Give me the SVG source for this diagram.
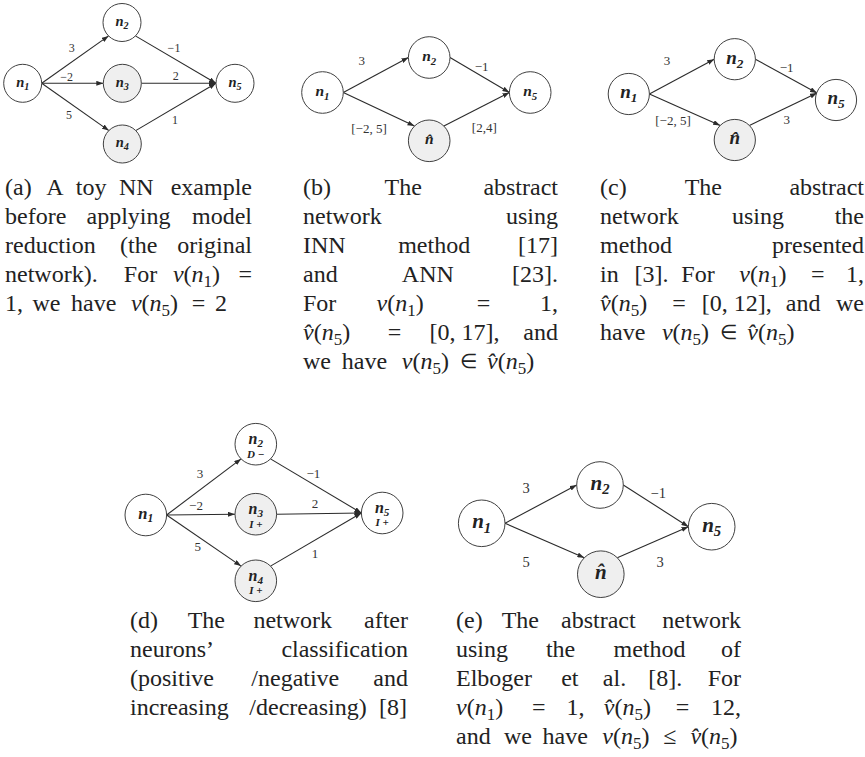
<svg xmlns="http://www.w3.org/2000/svg" width="865" height="757" viewBox="0 0 865 757">
<style>
.bg{fill:#fff}
.edge{stroke:#2b2b2b;stroke-width:1.1;fill:none;marker-end:url(#ah)}
.nd{stroke:#404040;stroke-width:1;fill:#fff}
.nd.g{fill:#efefef}
.nl{font-family:"Liberation Serif","Times New Roman",serif;font-weight:bold;font-style:italic;text-anchor:middle;fill:#222}
.ns{font-size:70%}
.tag{font-size:11px}
.el{font-family:"Liberation Serif","Times New Roman",serif;text-anchor:middle;fill:#333}
.c{font-family:"Liberation Serif","Times New Roman",serif;font-size:24px;fill:#222}
.m{text-anchor:middle}
.e{text-anchor:end}
.i{font-style:italic}
.s{font-size:17px}
.rel{font-size:20px}
</style>
<defs>
<marker id="ah" viewBox="0 0 7 5" refX="7" refY="2.5" markerWidth="7" markerHeight="5" markerUnits="userSpaceOnUse" orient="auto">
<path d="M0,0 L7,2.5 L0,5 Z" fill="#2b2b2b"/>
</marker>
</defs>
<rect class="bg" x="0" y="0" width="865" height="757"/>

<!-- (a) original network -->
<g id="a-edges">
<path class="edge" d="M41.7,83.3 L108.6,35.9"/>
<path class="edge" d="M41.7,83.3 L103.3,83.3"/>
<path class="edge" d="M41.7,83.3 L108.9,130.6"/>
<path class="edge" d="M135.4,35.9 L216,83.3"/>
<path class="edge" d="M141.3,83.3 L216,83.3"/>
<path class="edge" d="M135.7,130.6 L216,83.3"/>
<g font-size="12">
<text class="el" x="71.7" y="52">3</text>
<text class="el" x="66.7" y="81">−2</text>
<text class="el" x="69" y="119">5</text>
<text class="el" x="174" y="52">−1</text>
<text class="el" x="175.7" y="80">2</text>
<text class="el" x="175" y="124">1</text>
</g>
</g>
<g id="a-n1"><circle class="nd" cx="22.7" cy="83.3" r="19"/><text class="nl" x="22.7" y="86.7" font-size="14.5">n<tspan class="ns" dy="3">1</tspan></text></g>
<g id="a-n2"><circle class="nd" cx="122" cy="22.5" r="19"/><text class="nl" x="122" y="25.9" font-size="14.5">n<tspan class="ns" dy="3">2</tspan></text></g>
<g id="a-n3"><circle class="nd g" cx="122.3" cy="83.3" r="19"/><text class="nl" x="122.3" y="86.7" font-size="14.5">n<tspan class="ns" dy="3">3</tspan></text></g>
<g id="a-n4"><circle class="nd g" cx="122.3" cy="144" r="19"/><text class="nl" x="122.3" y="147.4" font-size="14.5">n<tspan class="ns" dy="3">4</tspan></text></g>
<g id="a-n5"><circle class="nd" cx="235" cy="83.3" r="19"/><text class="nl" x="235" y="86.7" font-size="14.5">n<tspan class="ns" dy="3">5</tspan></text></g>

<!-- (b) INN / ANN abstraction -->
<g id="b-edges">
<path class="edge" d="M343.3,92.5 L408.4,57.5"/>
<path class="edge" d="M343.3,92.5 L414.5,126.1"/>
<path class="edge" d="M450,57.5 L509.4,92.5"/>
<path class="edge" d="M443.9,126.1 L509.4,92.5"/>
<g font-size="13">
<text class="el" x="361.7" y="65">3</text>
<text class="el" x="481.7" y="71">−1</text>
<text class="el" x="369" y="133">[−2, 5]</text>
<text class="el" x="484.3" y="132">[2,4]</text>
</g>
</g>
<g id="b-n1"><circle class="nd" cx="322.5" cy="92.5" r="20.8"/><text class="nl" x="322.5" y="96.1" font-size="15.5">n<tspan class="ns" dy="3.4">1</tspan></text></g>
<g id="b-n2"><circle class="nd" cx="429.2" cy="57.5" r="20.8"/><text class="nl" x="429.2" y="61.1" font-size="15.5">n<tspan class="ns" dy="3.4">2</tspan></text></g>
<g id="b-nh"><circle class="nd g" cx="429.2" cy="140.8" r="20.8"/><text class="nl" x="429.2" y="144.4" font-size="15.5">n&#x302;</text></g>
<g id="b-n5"><circle class="nd" cx="530.2" cy="92.5" r="20.8"/><text class="nl" x="530.2" y="96.1" font-size="15.5">n<tspan class="ns" dy="3.4">5</tspan></text></g>

<!-- (c) abstraction of [3] -->
<g id="c-edges">
<path class="edge" d="M649.4,94 L714.2,59.2"/>
<path class="edge" d="M649.4,94 L720.2,125.4"/>
<path class="edge" d="M755.4,59.2 L817,93"/>
<path class="edge" d="M749.4,125.4 L817,93"/>
<g font-size="13">
<text class="el" x="667" y="65">3</text>
<text class="el" x="786.7" y="71.6">−1</text>
<text class="el" x="673" y="124.5">[−2, 5]</text>
<text class="el" x="786.7" y="123.6">3</text>
</g>
</g>
<g id="c-n1"><circle class="nd" cx="628.8" cy="94" r="20.6"/><text class="nl" x="628.8" y="98.4" font-size="19">n<tspan class="ns" dy="4">1</tspan></text></g>
<g id="c-n2"><circle class="nd" cx="734.8" cy="59.2" r="20.6"/><text class="nl" x="734.8" y="63.6" font-size="19">n<tspan class="ns" dy="4">2</tspan></text></g>
<g id="c-nh"><circle class="nd g" cx="734.8" cy="140" r="20.6"/><text class="nl" x="734.8" y="144.4" font-size="19">n&#x302;</text></g>
<g id="c-n5"><circle class="nd" cx="836" cy="100" r="20.6"/><text class="nl" x="836" y="104.4" font-size="19">n<tspan class="ns" dy="4">5</tspan></text></g>

<!-- (d) classified network -->
<g id="d-edges">
<path class="edge" d="M166.6,515 L241.1,458.9"/>
<path class="edge" d="M166.6,515 L235,514.2"/>
<path class="edge" d="M166.6,515 L241.1,566.1"/>
<path class="edge" d="M270.5,458.9 L361.4,513"/>
<path class="edge" d="M276.6,514.2 L361.4,513"/>
<path class="edge" d="M270.5,566.1 L361.4,513"/>
<g font-size="13">
<text class="el" x="200" y="477.6">3</text>
<text class="el" x="196" y="510.3">−2</text>
<text class="el" x="197.7" y="551">5</text>
<text class="el" x="313.3" y="478.3">−1</text>
<text class="el" x="315" y="507.6">2</text>
<text class="el" x="315" y="557.6">1</text>
</g>
</g>
<g id="d-n1"><circle class="nd" cx="145.8" cy="515" r="20.8"/><text class="nl" x="145.8" y="518.8" font-size="16.5">n<tspan class="ns" dy="3.6">1</tspan></text></g>
<g id="d-n2"><circle class="nd" cx="255.8" cy="444.2" r="20.8"/><text class="nl" x="255.8" y="444.4" font-size="16">n<tspan class="ns" dy="2.6">2</tspan><tspan class="tag" x="255.8" dy="10.6">D −</tspan></text></g>
<g id="d-n3"><circle class="nd g" cx="255.8" cy="514.2" r="20.8"/><text class="nl" x="255.8" y="514.4" font-size="16">n<tspan class="ns" dy="2.6">3</tspan><tspan class="tag" x="255.8" dy="10.6">I +</tspan></text></g>
<g id="d-n4"><circle class="nd g" cx="255.8" cy="580.8" r="20.8"/><text class="nl" x="255.8" y="581" font-size="16">n<tspan class="ns" dy="2.6">4</tspan><tspan class="tag" x="255.8" dy="10.6">I +</tspan></text></g>
<g id="d-n5"><circle class="nd" cx="382.2" cy="513" r="20.8"/><text class="nl" x="382.2" y="513.2" font-size="16">n<tspan class="ns" dy="2.6">5</tspan><tspan class="tag" x="382.2" dy="10.6">I +</tspan></text></g>

<!-- (e) abstraction of Elboger et al. -->
<g id="e-edges">
<path class="edge" d="M505,523.3 L576.7,485"/>
<path class="edge" d="M505,523.3 L584.3,557.7"/>
<path class="edge" d="M623.3,485 L688.4,526.7"/>
<path class="edge" d="M617.3,557.7 L688.4,526.7"/>
<g font-size="14.5">
<text class="el" x="526" y="493">3</text>
<text class="el" x="658.3" y="498">−1</text>
<text class="el" x="526" y="566.5">5</text>
<text class="el" x="660" y="566.5">3</text>
</g>
</g>
<g id="e-n1"><circle class="nd" cx="481.7" cy="523.3" r="23.3"/><text class="nl" x="481.7" y="528.1" font-size="21">n<tspan class="ns" dy="4.6">1</tspan></text></g>
<g id="e-n2"><circle class="nd" cx="600" cy="485" r="23.3"/><text class="nl" x="600" y="489.8" font-size="21">n<tspan class="ns" dy="4.6">2</tspan></text></g>
<g id="e-nh"><circle class="nd g" cx="600.8" cy="574.2" r="23.3"/><text class="nl" x="600.8" y="579" font-size="21">n&#x302;</text></g>
<g id="e-n5"><circle class="nd" cx="711.7" cy="526.7" r="23.3"/><text class="nl" x="711.7" y="531.5" font-size="21">n<tspan class="ns" dy="4.6">5</tspan></text></g>

<!-- caption (a) -->
<g id="cap-a">
<text class="c" x="5" y="195">(a)</text>
<text class="c m" x="55" y="195">A</text>
<text class="c m" x="91.1" y="195">toy</text>
<text class="c m" x="136.3" y="195">NN</text>
<text class="c e" x="252" y="195">example</text>
<text class="c" x="5" y="224">before</text>
<text class="c m" x="128.5" y="224">applying</text>
<text class="c e" x="252" y="224">model</text>
<text class="c" x="5" y="253">reduction</text>
<text class="c m" x="138.7" y="253">(the</text>
<text class="c e" x="252" y="253">original</text>
<text class="c" x="5" y="282">network).</text>
<text class="c m" x="140.5" y="282">For</text>
<text class="c m" x="196.5" y="282"><tspan class="i">v</tspan>(<tspan class="i">n</tspan><tspan class="s" dy="5">1</tspan><tspan dy="-5">)</tspan></text>
<text class="c e" x="252" y="282">=</text>
<text class="c" x="5" y="311">1,</text>
<text class="c m" x="46.5" y="311">we</text>
<text class="c m" x="93.7" y="311">have</text>
<text class="c m" x="154.5" y="311"><tspan class="i">v</tspan>(<tspan class="i">n</tspan><tspan class="s" dy="5">5</tspan><tspan dy="-5">)</tspan></text>
<text class="c m" x="198.5" y="311">=</text>
<text class="c m" x="221" y="311">2</text>
</g>

<!-- caption (b) -->
<g id="cap-b">
<text class="c" x="303" y="195">(b)</text>
<text class="c m" x="403.2" y="195">The</text>
<text class="c e" x="558" y="195">abstract</text>
<text class="c" x="303" y="224">network</text>
<text class="c e" x="558" y="224">using</text>
<text class="c" x="303" y="253">INN</text>
<text class="c m" x="434.2" y="253">method</text>
<text class="c e" x="558" y="253">[17]</text>
<text class="c" x="303" y="282">and</text>
<text class="c m" x="427.8" y="282">ANN</text>
<text class="c e" x="558" y="282">[23].</text>
<text class="c" x="303" y="311">For</text>
<text class="c m" x="400.2" y="311"><tspan class="i">v</tspan>(<tspan class="i">n</tspan><tspan class="s" dy="5">1</tspan><tspan dy="-5">)</tspan></text>
<text class="c m" x="483.4" y="311">=</text>
<text class="c e" x="558" y="311">1,</text>
<text class="c" x="303" y="340"><tspan class="i">v&#x302;</tspan>(<tspan class="i">n</tspan><tspan class="s" dy="5">5</tspan><tspan dy="-5">)</tspan></text>
<text class="c m" x="394.4" y="340">=</text>
<text class="c m" x="464.5" y="340">[0, 17],</text>
<text class="c e" x="558" y="340">and</text>
<text class="c" x="303" y="369">we</text>
<text class="c m" x="364.5" y="369">have</text>
<text class="c m" x="425.3" y="369"><tspan class="i">v</tspan>(<tspan class="i">n</tspan><tspan class="s" dy="5">5</tspan><tspan dy="-5">)</tspan></text>
<text class="c m rel" x="468" y="368">∈</text>
<text class="c m" x="510.6" y="369"><tspan class="i">v&#x302;</tspan>(<tspan class="i">n</tspan><tspan class="s" dy="5">5</tspan><tspan dy="-5">)</tspan></text>
</g>

<!-- caption (c) -->
<g id="cap-c">
<text class="c" x="600" y="195">(c)</text>
<text class="c m" x="703.3" y="195">The</text>
<text class="c e" x="864" y="195">abstract</text>
<text class="c" x="600" y="224">network</text>
<text class="c m" x="757.9" y="224">using</text>
<text class="c e" x="864" y="224">the</text>
<text class="c" x="600" y="253">method</text>
<text class="c e" x="864" y="253">presented</text>
<text class="c" x="600" y="282">in</text>
<text class="c m" x="651.5" y="282">[3].</text>
<text class="c m" x="698" y="282">For</text>
<text class="c m" x="762.8" y="282"><tspan class="i">v</tspan>(<tspan class="i">n</tspan><tspan class="s" dy="5">1</tspan><tspan dy="-5">)</tspan></text>
<text class="c m" x="817.7" y="282">=</text>
<text class="c e" x="864" y="282">1,</text>
<text class="c" x="600" y="311"><tspan class="i">v&#x302;</tspan>(<tspan class="i">n</tspan><tspan class="s" dy="5">5</tspan><tspan dy="-5">)</tspan></text>
<text class="c m" x="679.1" y="311">=</text>
<text class="c m" x="736.8" y="311">[0, 12],</text>
<text class="c m" x="803.1" y="311">and</text>
<text class="c e" x="864" y="311">we</text>
<text class="c" x="600" y="340">have</text>
<text class="c m" x="685.5" y="340"><tspan class="i">v</tspan>(<tspan class="i">n</tspan><tspan class="s" dy="5">5</tspan><tspan dy="-5">)</tspan></text>
<text class="c m rel" x="728.2" y="339">∈</text>
<text class="c m" x="770.9" y="340"><tspan class="i">v&#x302;</tspan>(<tspan class="i">n</tspan><tspan class="s" dy="5">5</tspan><tspan dy="-5">)</tspan></text>
</g>

<!-- caption (d) -->
<g id="cap-d">
<text class="c" x="130" y="628">(d)</text>
<text class="c m" x="206.3" y="628">The</text>
<text class="c m" x="292.8" y="628">network</text>
<text class="c e" x="408" y="628">after</text>
<text class="c" x="130" y="657">neurons’</text>
<text class="c e" x="408" y="657">classification</text>
<text class="c" x="130" y="686">(positive</text>
<text class="c m" x="295.3" y="686">/negative</text>
<text class="c e" x="408" y="686">and</text>
<text class="c" x="130" y="715">increasing</text>
<text class="c m" x="308" y="715">/decreasing)</text>
<text class="c e" x="407" y="715">[8]</text>
</g>

<!-- caption (e) -->
<g id="cap-e">
<text class="c" x="456" y="628">(e)</text>
<text class="c m" x="520.3" y="628">The</text>
<text class="c m" x="598.3" y="628">abstract</text>
<text class="c e" x="741" y="628">network</text>
<text class="c" x="456" y="657">using</text>
<text class="c m" x="560.6" y="657">the</text>
<text class="c m" x="649.5" y="657">method</text>
<text class="c e" x="741" y="657">of</text>
<text class="c" x="456" y="686">Elboger</text>
<text class="c m" x="569.8" y="686">et</text>
<text class="c m" x="614.5" y="686">al.</text>
<text class="c m" x="665.3" y="686">[8].</text>
<text class="c e" x="741" y="686">For</text>
<text class="c" x="456" y="715"><tspan class="i">v</tspan>(<tspan class="i">n</tspan><tspan class="s" dy="5">1</tspan><tspan dy="-5">)</tspan></text>
<text class="c m" x="538.7" y="715">=</text>
<text class="c m" x="575.5" y="715">1,</text>
<text class="c m" x="627.4" y="715"><tspan class="i">v&#x302;</tspan>(<tspan class="i">n</tspan><tspan class="s" dy="5">5</tspan><tspan dy="-5">)</tspan></text>
<text class="c m" x="682.4" y="715">=</text>
<text class="c e" x="741" y="715">12,</text>
<text class="c" x="456" y="744">and</text>
<text class="c m" x="518" y="744">we</text>
<text class="c m" x="565.2" y="744">have</text>
<text class="c m" x="625.9" y="744"><tspan class="i">v</tspan>(<tspan class="i">n</tspan><tspan class="s" dy="5">5</tspan><tspan dy="-5">)</tspan></text>
<text class="c m" x="669.9" y="744">≤</text>
<text class="c m" x="714" y="744"><tspan class="i">v&#x302;</tspan>(<tspan class="i">n</tspan><tspan class="s" dy="5">5</tspan><tspan dy="-5">)</tspan></text>
</g>
</svg>
